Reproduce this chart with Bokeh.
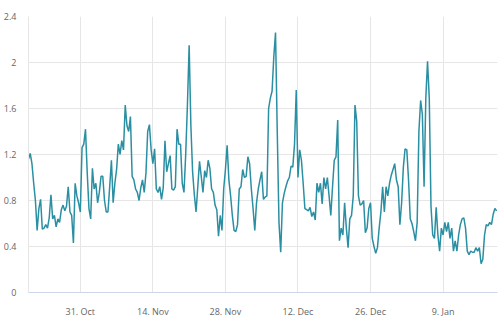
from datetime import datetime, timedelta
from bokeh.plotting import figure
from bokeh.models import FixedTicker, NumeralTickFormatter, ColumnDataSource, Range1d
from bokeh.embed import file_html
from bokeh.resources import INLINE

# ---- data: one reading every 8 hours, starting 21 Oct ----
start = datetime(2022, 10, 21)
step_hours = 8

oct_vals = [1.16, 1.21, 1.12, 0.95, 0.80, 0.54, 0.73, 0.81, 0.55, 0.56, 0.59,
            0.56, 0.65, 0.85, 0.64, 0.67, 0.57, 0.64, 0.61, 0.72, 0.76, 0.71,
            0.75, 0.92, 0.70, 0.67, 0.43, 0.95, 0.84, 0.78, 0.70, 1.26, 1.29]
nov_vals = [1.42, 1.04, 0.73, 0.64, 1.08, 0.90, 0.95, 0.78, 0.87, 1.01, 1.01,
            0.80, 0.70, 0.70, 0.92, 1.15, 0.78, 0.95, 1.07, 1.29, 1.20, 1.32,
            1.24, 1.63, 1.45, 1.40, 1.53, 1.01, 0.98, 0.90, 0.87, 0.80, 0.91,
            0.98, 0.87, 1.04, 1.40, 1.46, 1.24, 1.12, 1.25, 0.90, 0.87, 0.92,
            0.81, 0.91, 1.32, 1.05, 1.12, 1.19, 0.90, 0.89, 0.92, 1.42, 1.29,
            1.29, 0.95, 0.87, 1.20, 1.63, 2.15, 1.45, 1.05, 0.85, 0.70, 0.92,
            1.14, 1.01, 0.87, 1.06, 1.00, 1.15, 1.08, 0.90, 0.87, 0.76, 0.72,
            0.49, 0.67, 0.54, 0.90, 1.07, 1.28, 0.98, 0.84, 0.67, 0.54, 0.53,
            0.59, 0.90]
dec_vals = [0.92, 1.07, 1.00, 1.01, 1.18, 1.12, 0.90, 0.73, 0.54, 0.78, 0.90,
            0.98, 1.05, 0.81, 0.83, 0.84, 1.60, 1.69, 1.75, 2.05, 2.26, 1.40,
            0.61, 0.35, 0.78, 0.86, 0.92, 0.97, 1.00, 1.10, 1.09, 1.29, 1.76,
            1.00, 1.24, 1.15, 0.95, 0.73, 0.72, 0.71, 0.74, 0.66, 0.70, 0.63,
            0.95, 0.87, 0.95, 0.77, 1.00, 0.90, 1.00, 0.84, 0.67, 0.92, 1.15,
            1.18, 1.50, 0.45, 0.56, 0.50, 0.78, 0.56, 0.39, 0.64, 0.67, 0.84,
            1.63, 1.49, 0.84, 0.76, 0.77, 0.80, 0.52, 0.56, 0.73, 0.78, 0.47,
            0.40, 0.34, 0.39, 0.56, 0.70, 0.92, 0.70, 0.92, 0.84, 0.95, 1.02,
            1.07, 1.12, 0.98, 0.92, 0.59]
jan_vals = [0.78, 1.09, 1.25, 1.24, 0.98, 0.64, 0.60, 0.53, 0.45, 0.61, 1.40,
            1.67, 1.55, 0.92, 1.69, 2.01, 1.69, 0.75, 0.50, 0.47, 0.74, 0.50,
            0.36, 0.56, 0.50, 0.61, 0.53, 0.61, 0.47, 0.56, 0.36, 0.45, 0.36,
            0.50, 0.59, 0.64, 0.65, 0.56, 0.36, 0.33, 0.36, 0.35, 0.35, 0.39,
            0.36, 0.39, 0.25, 0.29, 0.50, 0.59, 0.58, 0.61, 0.59, 0.68, 0.73,
            0.71]

x_tick_dates = ["2022-10-31", "2022-11-14", "2022-11-28", "2022-12-12",
                "2022-12-26", "2023-01-09"]
x_tick_labels = ["31. Oct", "14. Nov", "28. Nov", "12. Dec", "26. Dec", "9. Jan"]
y_ticks = [0, 0.4, 0.8, 1.2, 1.6, 2, 2.4]

values = oct_vals + nov_vals + dec_vals + jan_vals
times = [start + timedelta(hours=step_hours * i) for i in range(len(values))]

src = ColumnDataSource(data=dict(t=times, v=values))

LINE = "#2a8fa2"
GRID = "#e6e6e6"
LABEL = "#666666"
FONT = "Open Sans"

p = figure(width=500, height=320, x_axis_type="datetime",
           output_backend="svg", toolbar_location=None,
           min_border_left=24, min_border_right=3,
           min_border_top=16, min_border_bottom=21)

p.x_range = Range1d(start, times[-1] + timedelta(hours=4))
p.y_range = Range1d(0, 2.4)

p.line("t", "v", source=src, line_color=LINE, line_width=1.5)

p.outline_line_color = None
p.background_fill_color = "white"
p.border_fill_color = "white"

epoch = datetime(1970, 1, 1)
tick_ms = [int((datetime.strptime(d, "%Y-%m-%d") - epoch).total_seconds() * 1000)
           for d in x_tick_dates]
p.xaxis.ticker = FixedTicker(ticks=tick_ms)
p.xaxis.major_label_overrides = {ms: lab for ms, lab in zip(tick_ms, x_tick_labels)}
p.yaxis.ticker = FixedTicker(ticks=y_ticks)
p.yaxis.formatter = NumeralTickFormatter(format="0.[0]")

for ax in (p.xaxis, p.yaxis):
    ax.major_tick_line_color = None
    ax.minor_tick_line_color = None
    ax.major_label_text_color = LABEL
    ax.major_label_text_font = FONT
    ax.major_label_text_font_size = "9px"

p.xaxis.axis_line_color = "#ccd6eb"
p.yaxis.axis_line_color = "#e6e6e6"
p.xaxis.major_label_standoff = 6
p.yaxis.major_label_standoff = 6

p.xgrid.grid_line_color = GRID
p.ygrid.grid_line_color = GRID

open("out.html", "w").write(file_html(p, INLINE))
